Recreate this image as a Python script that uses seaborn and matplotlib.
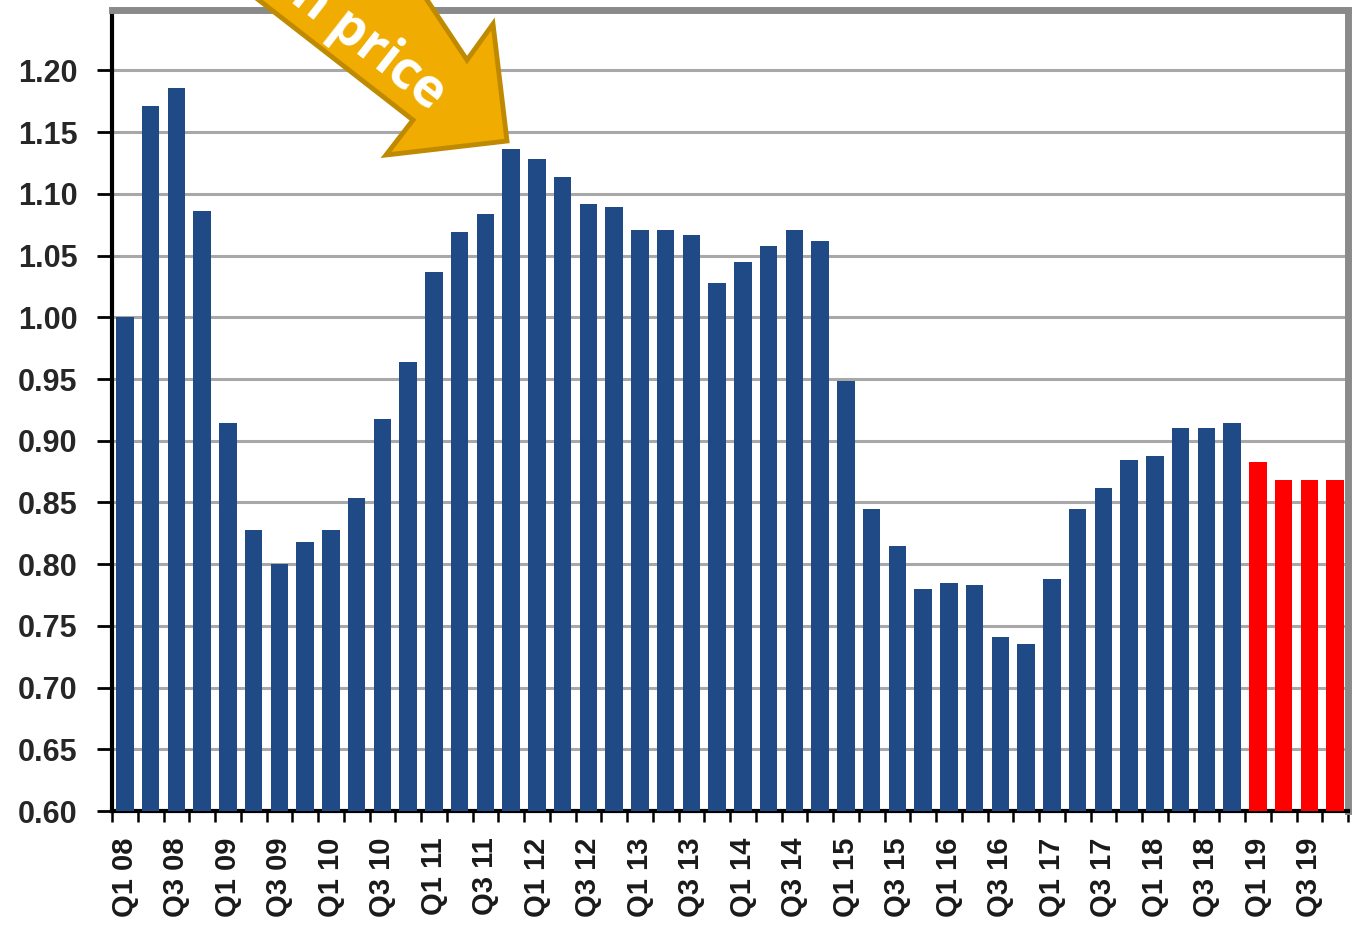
import matplotlib
matplotlib.use("Agg")
import matplotlib.pyplot as plt
from matplotlib.patches import Polygon
from matplotlib.ticker import FixedLocator
import seaborn as sns
import pandas as pd

# Quarterly index values, Q1 2008 - Q4 2019 (2019 = forecast)
years = [f"{y:02d}" for y in range(8, 20)]
quarters = [f"Q{q} {y}" for y in years for q in (1, 2, 3, 4)]
values = [
    1.000, 1.171, 1.186, 1.086,   # 2008
    0.914, 0.828, 0.800, 0.818,   # 2009
    0.828, 0.854, 0.918, 0.964,   # 2010
    1.037, 1.069, 1.084, 1.136,   # 2011
    1.128, 1.114, 1.092, 1.089,   # 2012
    1.071, 1.071, 1.067, 1.028,   # 2013
    1.045, 1.058, 1.071, 1.062,   # 2014
    0.948, 0.845, 0.815, 0.780,   # 2015
    0.785, 0.783, 0.741, 0.735,   # 2016
    0.788, 0.845, 0.862, 0.884,   # 2017
    0.888, 0.910, 0.910, 0.914,   # 2018
    0.883, 0.868, 0.868, 0.868,   # 2019
]
kind = ["actual"] * 44 + ["forecast"] * 4
tick_labels = [q if q.startswith(("Q1", "Q3")) else "" for q in quarters]
y_ticks = [0.60, 0.65, 0.70, 0.75, 0.80, 0.85, 0.90, 0.95, 1.00, 1.05, 1.10, 1.15, 1.20]
arrow_text = "in price"

df = pd.DataFrame({"quarter": quarters, "value": values, "kind": kind})

sns.set_style("white")
plt.rcParams["font.family"] = ["Liberation Sans", "DejaVu Sans"]

W, H = 1357, 930
fig = plt.figure(figsize=(W / 100, H / 100), dpi=100)
ax = fig.add_axes([112 / W, 1 - 811 / H, (1348 - 112) / W, (811 - 10) / H])

sns.barplot(data=df, x="quarter", y="value", hue="kind",
            palette={"actual": "#1F4A86", "forecast": "#FF0000"},
            dodge=False, width=0.67, saturation=1, legend=False,
            edgecolor="none", ax=ax, zorder=3)

ax.set_xlim(-0.5, len(quarters) - 0.5)
ax.set_ylim(0.60, 1.249)
ax.set_xlabel("")
ax.set_ylabel("")

# y axis
ax.set_yticks(y_ticks)
ax.set_yticklabels([f"{v:.2f}" for v in y_ticks], fontsize=22,
                   fontweight="bold", color="#262626")
ax.tick_params(axis="y", direction="out", length=11, width=2,
               color="black", pad=14, left=True)
ax.grid(axis="y", color="#a8a8a8", linewidth=2.2, zorder=0)

# x axis: labels at bar centres, ticks at slot boundaries
ax.set_xticks(range(len(quarters)))
ax.set_xticklabels(tick_labels, rotation=90, fontsize=21,
                   fontweight="bold", color="#1a1a1a")
ax.tick_params(axis="x", which="major", length=0, pad=19)
ax.xaxis.set_minor_locator(FixedLocator([i + 0.5 for i in range(-1, len(quarters))]))
ax.tick_params(axis="x", which="minor", direction="out", length=8,
               width=1.8, color="black", bottom=True)

for side in ("left", "bottom"):
    ax.spines[side].set_color("black")
    ax.spines[side].set_linewidth(3)
for side in ("top", "right"):
    ax.spines[side].set_color("#8a8a8a")
    ax.spines[side].set_linewidth(5)
    ax.spines[side].set_visible(True)


# Annotation arrow, drawn in figure pixel coordinates (y measured from top)
def fpt(x, y):
    return (x / W, 1 - y / H)


arrow_px = [
    (507, 141),   # tip
    (386, 155),   # lower barb
    (413, 120),   # lower shaft join
    (120, -108),  # lower shaft, beyond top edge
    (275, -228),  # upper shaft, beyond top edge
    (467, 60),    # upper shaft join
    (493, 24),    # upper barb
]
fig.add_artist(Polygon([fpt(x, y) for x, y in arrow_px], closed=True,
                       transform=fig.transFigure, facecolor="#F0AC00",
                       edgecolor="#C08A00", linewidth=3.5, zorder=10,
                       joinstyle="miter"))
fig.text(*fpt(362, 40), arrow_text, transform=fig.transFigure,
         rotation=-38, rotation_mode="anchor", ha="center", va="center",
         fontsize=38, fontweight="bold", color="white",
         family=["Open Sans", "DejaVu Sans"], zorder=11)

fig.savefig("out.png", dpi=100)
